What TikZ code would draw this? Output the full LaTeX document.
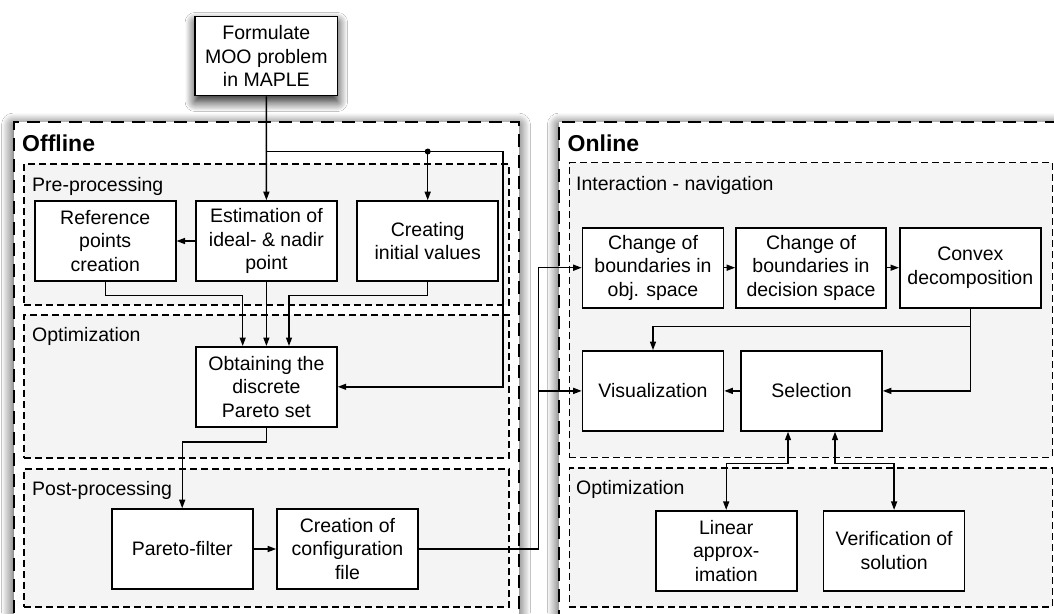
\documentclass[tikz,border=0pt]{standalone}
\usepackage{fontspec}
\setmainfont{Liberation Sans}
\usetikzlibrary{arrows.meta,shadows.blur}
\definecolor{panelgray}{RGB}{244,244,244}

\begin{document}
\begin{tikzpicture}[x=1pt,y=-1pt,
  font=\fontsize{19.5}{23.5}\selectfont,
  stage/.style={draw=black, line width=2pt, dash pattern=on 13pt off 8pt,
    fill=white, anchor=north west, inner sep=0pt, outer sep=0pt,
    blur shadow={shadow blur radius=12pt, shadow blur steps=14,
      shadow xshift=0pt, shadow yshift=-3pt, shadow opacity=85}},
  stagelabel/.style={font=\fontsize{23}{27}\selectfont\bfseries,
    anchor=base west, inner sep=0pt},
  panel/.style={draw=black, line width=1.4pt, dash pattern=on 7pt off 4pt,
    fill=panelgray, anchor=north west, inner sep=0pt, outer sep=0pt},
  panellabel/.style={anchor=base west, inner sep=0pt},
  stepbox/.style={draw=black, line width=1.6pt, fill=white,
    minimum width=141pt, minimum height=80pt, inner sep=2pt,
    align=center},
  topbox/.style={stepbox, minimum width=142.5pt, minimum height=79pt,
    blur shadow={shadow blur radius=10pt, shadow blur steps=14,
      shadow xshift=0pt, shadow yshift=-6pt, shadow opacity=90}},
  flow/.style={line width=1.4pt, -{Triangle[length=8.5pt,width=6pt]}},
  twoway/.style={line width=1.4pt,
    {Triangle[length=8.5pt,width=6pt]}-{Triangle[length=8.5pt,width=6pt]}},
]
\useasboundingbox (0,0) rectangle (1054,613);
\clip (0,0) rectangle (1054,613);
\fill[white] (0,0) rectangle (1054,613);

% Stages
\node[stage, minimum width=505pt, minimum height=528pt] (offline) at (13.5,122) {};
\node[stage, minimum width=521pt, minimum height=528pt] (online) at (559.3,122) {};
\node[stagelabel] (offlinelbl) at (22,151.5) {Offline};
\node[stagelabel] (onlinelbl) at (567.5,151.5) {Online};

% Offline panels
\node[panel, minimum width=484.8pt, minimum height=141pt] (pre) at (24,164) {};
\node[panel, minimum width=484.8pt, minimum height=143pt] (optl) at (24,315) {};
\node[panel, minimum width=484.8pt, minimum height=138pt] (post) at (24,469) {};
\node[panellabel] (prelbl) at (32,191) {Pre-processing};
\node[panellabel] (optllbl) at (32,341) {Optimization};
\node[panellabel] (postlbl) at (32,495) {Post-processing};

% Online panels
\node[panel, minimum width=483pt, minimum height=294.7pt] (inter) at (569.4,162.5) {};
\node[panel, minimum width=483pt, minimum height=139pt] (optr) at (569.4,468) {};
\node[panellabel] (interlbl) at (576,190) {Interaction - navigation};
\node[panellabel] (optrlbl) at (576,494) {Optimization};

% Steps
\node[topbox] (formulate) at (266.3,56) {Formulate\\MOO problem\\in MAPLE};
\node[stepbox] (ref) at (105.2,241) {Reference\\points\\creation};
\node[stepbox] (estim) at (266.4,241) {Estimation of\\ideal- \& nadir\\point};
\node[stepbox] (create) at (427.7,241) {Creating\\initial values};
\node[stepbox] (obtain) at (266.4,386.8) {Obtaining the\\discrete\\Pareto set};
\node[stepbox] (pfilter) at (182.2,549) {Pareto-filter};
\node[stepbox] (config) at (347.5,549) {Creation of\\configuration\\file};

\node[stepbox] (change1) at (653,267.7) {Change of\\boundaries in\\obj. space};
\node[stepbox, minimum width=150pt] (change2) at (811,267.7) {Change of\\boundaries in\\decision space};
\node[stepbox] (convex) at (970.3,267.7) {Convex\\decomposition};
\node[stepbox] (vis) at (653,390.9) {Visualization};
\node[stepbox] (sel) at (811.5,390.9) {Selection};
\node[stepbox] (linear) at (726.2,550.7) {Linear\\approx-\\imation};
\node[stepbox] (verif) at (894.1,550.7) {Verification of\\solution};

% Connectors, offline part
\coordinate (tap) at (266.4,151.5);
\coordinate (fork) at (427.7,151.5);
\coordinate (riser) at (503,151.5);
\draw[flow] (formulate.south) -- (estim.north);
\draw[flow] (tap) -- (riser) |- (obtain.east);
\fill (fork) circle (3pt);
\draw[flow] (fork) -- (create.north);
\draw[flow] (estim.west) -- (ref.east);
\draw[flow] (ref.south) -- ++(0,13.4) -| ([xshift=-23.7pt]obtain.north);
\draw[flow] (estim.south) -- (obtain.north);
\draw[flow] (create.south) -- ++(0,13.4) -| ([xshift=22.6pt]obtain.north);
\draw[flow] (obtain.south) -- ++(0,14.5) -| (pfilter.north);
\draw[flow] (pfilter.east) -- (config.west);

% Connectors, from offline to online
\coordinate (bus) at (538.7,267.7);
\draw[flow] (config.east) -| (bus) -- (change1.west);
\draw[flow] (bus |- vis.west) -- (vis.west);

% Connectors, online part
\draw[flow] (change1.east) -- (change2.west);
\draw[flow] (change2.east) -- (convex.west);
\draw[flow] (convex.south) -- ++(0,17.9) -| (vis.north);
\draw[flow] (convex.south) |- (sel.east);
\draw[flow] (sel.west) -- (vis.east);
\draw[twoway] ([xshift=-23.5pt]sel.south) -- ++(0,32) -| (linear.north);
\draw[twoway] ([xshift=23.5pt]sel.south) -- ++(0,32) -| (verif.north);
\end{tikzpicture}
\end{document}
